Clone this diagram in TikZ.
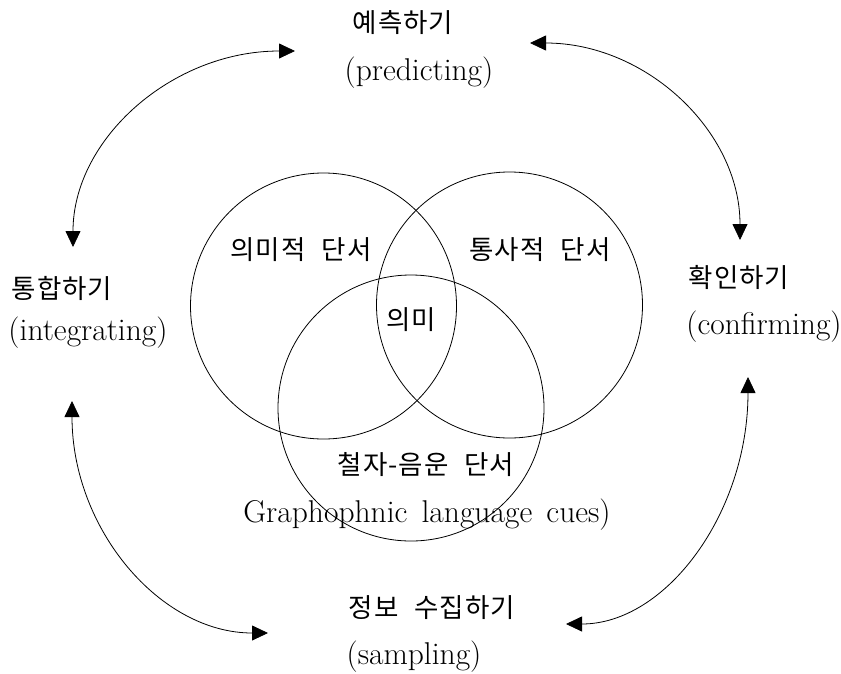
\documentclass[tikz,border=0pt]{standalone}
\usepackage{fontspec}
\newfontfamily\kr[LetterSpace=4]{Noto Sans CJK KR}
\usetikzlibrary{arrows.meta}

\begin{document}
\begin{tikzpicture}[x=1pt,y=-1pt,line width=0.8pt,
  >={Triangle[length=16pt,width=15pt]},
  kor/.style={font={\kr\fontsize{26.5}{30}\selectfont\spaceskip=.6em\relax}},
  eng/.style={font={\fontsize{31.5}{36}\selectfont\spaceskip=.45em\relax}}]
 \useasboundingbox (0,0) rectangle (841,673);
 \coordinate (sem) at (323.5,306); \draw (sem) circle (133pt);
 \coordinate (syn) at (509.5,305); \draw (syn) circle (133pt);
 \coordinate (gph) at (411,408); \draw (gph) circle (133pt);
 \node[kor] (semL) at (301,250) {의미적 단서};
 \node[kor] (synL) at (540,250) {통사적 단서};
 \node[kor] (mean) at (411,320) {의미};
 \node[kor] (gphL) at (426,465) {철자-음운 단서};
 \node[eng] (gphE) at (427,515) {Graphophnic language cues)};
 \node[kor] (pred) at (403,23) {예측하기};
 \node[eng] (predE) at (419,73) {(predicting)};
 \node[kor] (integ) at (62,288) {통합하기};
 \node[eng] (integE) at (88,333) {(integrating)};
 \node[kor] (conf) at (739,277) {확인하기};
 \node[eng] (confE) at (764,327) {(confirming)};
 \node[kor] (samp) at (432,608) {정보 수집하기};
 \node[eng] (sampE) at (414,657) {(sampling)};
 \coordinate (tl1) at (295,51);  \coordinate (tl2) at (73,247);
 \coordinate (tr1) at (530,43);  \coordinate (tr2) at (740,240);
 \coordinate (bl1) at (72,401);  \coordinate (bl2) at (268,633);
 \coordinate (br1) at (748,377); \coordinate (br2) at (566,624);
 \draw[<->] (tl1) .. controls +(-123,0) and +(0,-108) .. (tl2);
 \draw[<->] (tr1) .. controls +(116,0) and +(0,-109) .. (tr2);
 \draw[<->] (bl1) .. controls +(0,128) and +(-108,0) .. (bl2);
 \draw[<->] (br1) .. controls +(0,136) and +(100,0) .. (br2);
\end{tikzpicture}
\end{document}
